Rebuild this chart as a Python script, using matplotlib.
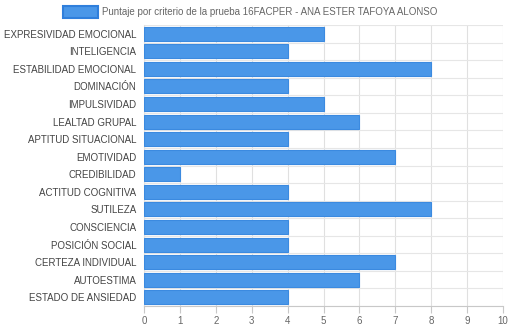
import matplotlib.pyplot as plt
from matplotlib.patches import Rectangle

criterios = ['EXPRESIVIDAD EMOCIONAL', 'INTELIGENCIA', 'ESTABILIDAD EMOCIONAL',
             'DOMINACIÓN', 'IMPULSIVIDAD', 'LEALTAD GRUPAL', 'APTITUD SITUACIONAL',
             'EMOTIVIDAD', 'CREDIBILIDAD', 'ACTITUD COGNITIVA', 'SUTILEZA',
             'CONSCIENCIA', 'POSICIÓN SOCIAL', 'CERTEZA INDIVIDUAL', 'AUTOESTIMA',
             'ESTADO DE ANSIEDAD']
puntajes = [5, 4, 8, 4, 5, 6, 4, 7, 1, 4, 8, 4, 4, 7, 6, 4]
ticks_x = list(range(0, 11))
titulo = 'Puntaje por criterio de la prueba 16FACPER - ANA ESTER TAFOYA ALONSO'

plt.rcParams['font.family'] = ['Liberation Sans', 'DejaVu Sans']

fig = plt.figure(figsize=(5.1, 3.28), dpi=100)
ax = fig.add_axes([144 / 510, 1 - 306 / 328, 359 / 510, 281 / 328])

n = len(criterios)
pos = list(range(n))
ax.barh(pos, puntajes, height=0.8, color='#4a97e8', edgecolor='#3b8ae0',
        linewidth=0.8, zorder=3)

ax.set_xlim(0, 10)
ax.set_ylim(n - 0.5, -0.5)
ax.set_xticks(ticks_x)
ax.set_yticks(pos)
ax.set_yticklabels(criterios)

# grid lines between the categories and at each x tick
for x in ticks_x:
    ax.axvline(x, color='#e0e0e0', lw=0.8, zorder=1)
for i in range(n + 1):
    ax.axhline(i - 0.5, color='#e6e6e6', lw=0.8, zorder=1)

for s in ['top', 'right']:
    ax.spines[s].set_visible(False)
ax.spines['bottom'].set_color('#c8c8c8')
ax.spines['left'].set_color('#e0e0e0')

ax.tick_params(axis='x', colors='#c8c8c8', labelcolor='#666666', labelsize=7,
               length=5, pad=2)
ax.tick_params(axis='y', length=0, labelcolor='#444444', labelsize=7, pad=5.5)

# legend drawn by hand at the top
fig.patches.append(Rectangle((63 / 510, 1 - 18 / 328), 35 / 510, 12 / 328,
                             transform=fig.transFigure, facecolor='#4a97e8',
                             edgecolor='#2f7fdc', lw=1.5))
fig.text(102 / 510, 1 - 12 / 328, titulo, fontsize=7, color='#666666',
         va='center', ha='left')

fig.savefig('out.png', dpi=100)
